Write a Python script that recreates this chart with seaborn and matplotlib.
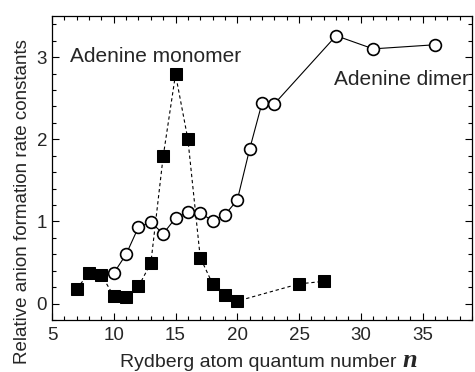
import matplotlib
matplotlib.use("Agg")
import matplotlib.pyplot as plt
import seaborn as sns
import numpy as np
from matplotlib.ticker import MultipleLocator

# Data
mono_n = [7, 8, 9, 10, 11, 12, 13, 14, 15, 16, 17, 18, 19, 20, 25, 27]
mono_k = [0.18, 0.37, 0.35, 0.09, 0.08, 0.21, 0.49, 1.79, 2.79, 2.00, 0.56, 0.24, 0.11, 0.03, 0.24, 0.27]
dimer_n = [10, 11, 12, 13, 14, 15, 16, 17, 18, 19, 20, 21, 22, 23, 28, 31, 36]
dimer_k = [0.37, 0.60, 0.93, 0.99, 0.85, 1.04, 1.11, 1.10, 1.01, 1.08, 1.26, 1.88, 2.44, 2.43, 3.26, 3.10, 3.15]
x_ticks = [5, 10, 15, 20, 25, 30, 35]
y_ticks = [0, 1, 2, 3]

sns.set_style("ticks")
plt.rcParams['font.family'] = ['Liberation Sans', 'DejaVu Sans']

fig = plt.figure(figsize=(4.75, 3.72), dpi=100)
ax = fig.add_axes([52/475, 52/372, 420/475, 304/372])

sns.lineplot(x=mono_n, y=mono_k, ax=ax, color="black", linestyle=(0, (3, 2.5)), linewidth=0.8,
             marker="s", markersize=8.5, markerfacecolor="black", markeredgecolor="black", zorder=3)
sns.lineplot(x=dimer_n, y=dimer_k, ax=ax, color="black", linestyle="-", linewidth=0.8,
             marker="o", markersize=8.5, markerfacecolor="white", markeredgecolor="black",
             markeredgewidth=1.2, zorder=4)

ax.set_xlim(5, 39)
ax.set_ylim(-0.2, 3.5)
ax.set_xticks(x_ticks)
ax.set_yticks(y_ticks)
ax.xaxis.set_minor_locator(MultipleLocator(1))
ax.yaxis.set_minor_locator(MultipleLocator(0.2))
ax.tick_params(which="both", direction="in", top=True, right=True, labelsize=13.5, width=0.8, color="black")
ax.tick_params(which="major", length=5)
ax.tick_params(which="minor", length=3)
ax.tick_params(axis="x", which="major", pad=5)
for s in ax.spines.values():
    s.set_linewidth(0.9)
    s.set_color("black")

ax.text(6.45, 2.94, "Adenine monomer", fontsize=15, va="baseline", ha="left")
ax.text(27.8, 2.66, "Adenine dimer", fontsize=15, va="baseline", ha="left")

ax.set_ylabel("Relative anion formation rate constants", fontsize=13.5)
ax.yaxis.set_label_coords(-0.05, 0.39)
fig.text(120/475, 5/372, "Rydberg atom quantum number", fontsize=14, ha="left", va="baseline")
fig.text(402/475, 5/372, "n", fontsize=19, family=["Liberation Serif", "DejaVu Serif"],
         weight="bold", style="italic", ha="left", va="baseline")

fig.savefig("out.png", dpi=100)
